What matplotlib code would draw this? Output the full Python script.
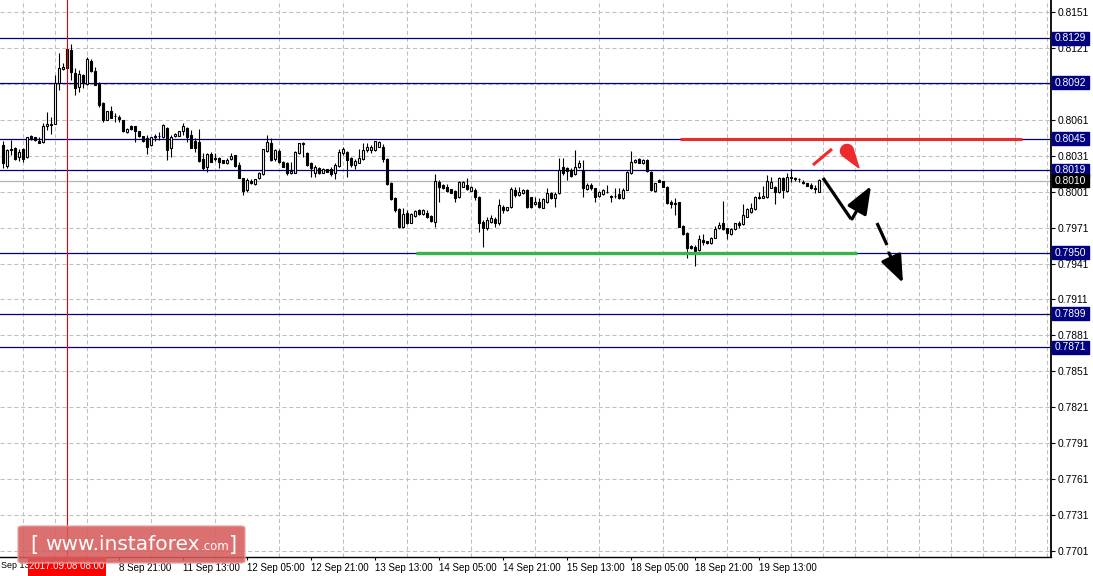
import matplotlib
matplotlib.use('Agg')
import matplotlib.pyplot as plt
from matplotlib.patches import Rectangle, FancyBboxPatch, Polygon
from matplotlib import transforms
import numpy as np

W, H = 1093, 576

# hourly candles, 7 Sep 16:00 .. 20 Sep 04:00
bar_open = [
    0.80400, 0.80227, 0.80363, 0.80377, 0.80302, 0.80363, 0.80297, 0.80475, 0.80464, 0.80433,
    0.80422, 0.80561, 0.80572, 0.80578, 0.80914, 0.81031, 0.81201, 0.81193, 0.80998, 0.80881,
    0.80984, 0.80906, 0.81104, 0.81017, 0.80920, 0.80753, 0.80608, 0.80683, 0.80644, 0.80636,
    0.80608, 0.80511, 0.80558, 0.80558, 0.80517, 0.80475, 0.80455, 0.80400, 0.80469, 0.80476,
    0.80464, 0.80544, 0.80372, 0.80475, 0.80478, 0.80517, 0.80544, 0.80483, 0.80433, 0.80427,
    0.80280, 0.80213, 0.80324, 0.80291, 0.80288, 0.80274, 0.80252, 0.80283, 0.80316, 0.80233,
    0.80121, 0.80024, 0.80099, 0.80071, 0.80121, 0.80155, 0.80352, 0.80414, 0.80283, 0.80350,
    0.80261, 0.80252, 0.80163, 0.80169, 0.80330, 0.80405, 0.80330, 0.80247, 0.80163, 0.80205,
    0.80169, 0.80197, 0.80197, 0.80163, 0.80224, 0.80330, 0.80344, 0.80288, 0.80233, 0.80252,
    0.80280, 0.80358, 0.80358, 0.80358, 0.80386, 0.80386, 0.80280, 0.80080, 0.79954, 0.79863,
    0.79718, 0.79829, 0.79751, 0.79807, 0.79857, 0.79824, 0.79835, 0.79807, 0.79760, 0.80088,
    0.80066, 0.80052, 0.80030, 0.80019, 0.79963, 0.80052, 0.80066, 0.80019, 0.80024, 0.79968,
    0.79760, 0.79704, 0.79760, 0.79779, 0.79751, 0.79885, 0.79857, 0.79879, 0.80024, 0.79982,
    0.79997, 0.80024, 0.79968, 0.79907, 0.79927, 0.79875, 0.79920, 0.80001, 0.79954, 0.79996,
    0.80218, 0.80204, 0.80190, 0.80154, 0.80218, 0.80190, 0.80029, 0.80065, 0.80037, 0.79976,
    0.79987, 0.80009, 0.79976, 0.79973, 0.79987, 0.79954, 0.80023, 0.80162, 0.80254, 0.80282,
    0.80246, 0.80274, 0.80176, 0.80015, 0.80107, 0.80098, 0.80051, 0.79920, 0.79912, 0.79920,
    0.79726, 0.79662, 0.79559, 0.79550, 0.79522, 0.79606, 0.79598, 0.79578, 0.79625, 0.79703,
    0.79745, 0.79703, 0.79653, 0.79698, 0.79745, 0.79737, 0.79801, 0.79842, 0.79865, 0.79968,
    0.79959, 0.79968, 0.80043, 0.80051, 0.80009, 0.80121, 0.80015, 0.80135, 0.80126, 0.80115,
    0.80088, 0.80079, 0.80065, 0.80038, 0.80009,
]
bar_high = [
    0.80433, 0.80363, 0.80441, 0.80380, 0.80363, 0.80372, 0.80469, 0.80483, 0.80469, 0.80469,
    0.80580, 0.80672, 0.80636, 0.80984, 0.81165, 0.81081, 0.81204, 0.81240, 0.81040, 0.81026,
    0.80990, 0.81137, 0.81118, 0.81054, 0.80923, 0.80761, 0.80686, 0.80728, 0.80664, 0.80647,
    0.80610, 0.80539, 0.80567, 0.80561, 0.80519, 0.80478, 0.80483, 0.80469, 0.80491, 0.80511,
    0.80572, 0.80546, 0.80483, 0.80496, 0.80520, 0.80583, 0.80546, 0.80525, 0.80455, 0.80530,
    0.80330, 0.80330, 0.80344, 0.80330, 0.80297, 0.80277, 0.80288, 0.80330, 0.80320, 0.80261,
    0.80127, 0.80121, 0.80116, 0.80116, 0.80177, 0.80370, 0.80483, 0.80455, 0.80365, 0.80370,
    0.80269, 0.80261, 0.80261, 0.80350, 0.80419, 0.80425, 0.80340, 0.80261, 0.80233, 0.80219,
    0.80205, 0.80202, 0.80219, 0.80247, 0.80364, 0.80380, 0.80352, 0.80302, 0.80280, 0.80364,
    0.80414, 0.80419, 0.80400, 0.80436, 0.80430, 0.80408, 0.80288, 0.80094, 0.79968, 0.79871,
    0.79871, 0.79857, 0.79829, 0.79857, 0.79863, 0.79863, 0.79857, 0.79812, 0.80158, 0.80108,
    0.80074, 0.80071, 0.80035, 0.80024, 0.80099, 0.80100, 0.80127, 0.80058, 0.80038, 0.79974,
    0.79774, 0.79801, 0.79815, 0.79796, 0.79946, 0.79899, 0.79885, 0.80052, 0.80052, 0.80046,
    0.80030, 0.80030, 0.79968, 0.79968, 0.79954, 0.79960, 0.80037, 0.80009, 0.80009, 0.80288,
    0.80288, 0.80218, 0.80204, 0.80357, 0.80274, 0.80274, 0.80079, 0.80079, 0.80039, 0.80015,
    0.80029, 0.80065, 0.79982, 0.80037, 0.80043, 0.80037, 0.80180, 0.80349, 0.80280, 0.80288,
    0.80280, 0.80282, 0.80182, 0.80085, 0.80112, 0.80102, 0.80055, 0.79940, 0.79954, 0.79923,
    0.79730, 0.79670, 0.79564, 0.79564, 0.79648, 0.79653, 0.79602, 0.79630, 0.79726, 0.79759,
    0.79931, 0.79709, 0.79703, 0.79750, 0.79764, 0.79904, 0.79870, 0.79912, 0.79973, 0.80009,
    0.80059, 0.80149, 0.80135, 0.80054, 0.80132, 0.80135, 0.80162, 0.80199, 0.80135, 0.80126,
    0.80107, 0.80083, 0.80079, 0.80065, 0.80115,
]
bar_low = [
    0.80206, 0.80206, 0.80316, 0.80275, 0.80266, 0.80261, 0.80294, 0.80439, 0.80433, 0.80414,
    0.80420, 0.80525, 0.80489, 0.80572, 0.80859, 0.81026, 0.81035, 0.80942, 0.80817, 0.80845,
    0.80873, 0.80904, 0.81006, 0.80898, 0.80720, 0.80594, 0.80605, 0.80622, 0.80589, 0.80589,
    0.80511, 0.80503, 0.80525, 0.80427, 0.80464, 0.80427, 0.80322, 0.80395, 0.80433, 0.80441,
    0.80455, 0.80274, 0.80302, 0.80470, 0.80475, 0.80483, 0.80422, 0.80372, 0.80344, 0.80261,
    0.80191, 0.80177, 0.80255, 0.80266, 0.80206, 0.80249, 0.80241, 0.80274, 0.80220, 0.80121,
    0.79982, 0.80010, 0.80071, 0.80068, 0.80116, 0.80152, 0.80344, 0.80269, 0.80270, 0.80250,
    0.80213, 0.80149, 0.80155, 0.80166, 0.80325, 0.80300, 0.80228, 0.80135, 0.80135, 0.80155,
    0.80163, 0.80170, 0.80144, 0.80113, 0.80213, 0.80316, 0.80135, 0.80219, 0.80197, 0.80247,
    0.80275, 0.80344, 0.80330, 0.80352, 0.80383, 0.80261, 0.80066, 0.79941, 0.79843, 0.79704,
    0.79704, 0.79740, 0.79746, 0.79796, 0.79818, 0.79815, 0.79788, 0.79760, 0.79718, 0.79927,
    0.80030, 0.80010, 0.79997, 0.79927, 0.79954, 0.80046, 0.80024, 0.80013, 0.79941, 0.79676,
    0.79551, 0.79690, 0.79751, 0.79718, 0.79732, 0.79829, 0.79852, 0.79871, 0.79968, 0.79974,
    0.79992, 0.79871, 0.79874, 0.79899, 0.79871, 0.79870, 0.79912, 0.79948, 0.79884, 0.79987,
    0.80149, 0.80107, 0.80135, 0.80149, 0.80210, 0.79968, 0.80023, 0.80023, 0.79926, 0.79962,
    0.79982, 0.79996, 0.79926, 0.79954, 0.79952, 0.79948, 0.80020, 0.80154, 0.80250, 0.80246,
    0.80240, 0.80176, 0.80015, 0.80010, 0.80088, 0.80046, 0.79908, 0.79870, 0.79815, 0.79713,
    0.79650, 0.79453, 0.79531, 0.79392, 0.79514, 0.79564, 0.79574, 0.79574, 0.79620, 0.79698,
    0.79689, 0.79614, 0.79650, 0.79693, 0.79709, 0.79731, 0.79796, 0.79829, 0.79860, 0.79948,
    0.79954, 0.79954, 0.80037, 0.79904, 0.79996, 0.79954, 0.80009, 0.80093, 0.80098, 0.80093,
    0.80071, 0.80055, 0.80029, 0.79996, 0.80007,
]
bar_close = [
    0.80247, 0.80358, 0.80360, 0.80283, 0.80344, 0.80280, 0.80464, 0.80450, 0.80439, 0.80419,
    0.80555, 0.80572, 0.80564, 0.80914, 0.81040, 0.81051, 0.81040, 0.81012, 0.80873, 0.80992,
    0.80914, 0.81118, 0.81017, 0.80901, 0.80734, 0.80608, 0.80683, 0.80628, 0.80640, 0.80614,
    0.80519, 0.80530, 0.80533, 0.80517, 0.80475, 0.80433, 0.80386, 0.80464, 0.80471, 0.80478,
    0.80564, 0.80358, 0.80469, 0.80491, 0.80517, 0.80561, 0.80469, 0.80377, 0.80372, 0.80266,
    0.80206, 0.80324, 0.80261, 0.80280, 0.80255, 0.80252, 0.80274, 0.80308, 0.80224, 0.80127,
    0.80016, 0.80107, 0.80080, 0.80113, 0.80169, 0.80366, 0.80427, 0.80275, 0.80358, 0.80260,
    0.80219, 0.80169, 0.80185, 0.80344, 0.80414, 0.80415, 0.80233, 0.80205, 0.80213, 0.80169,
    0.80197, 0.80177, 0.80155, 0.80233, 0.80344, 0.80364, 0.80275, 0.80233, 0.80269, 0.80288,
    0.80358, 0.80386, 0.80380, 0.80433, 0.80428, 0.80280, 0.80074, 0.79946, 0.79857, 0.79712,
    0.79824, 0.79751, 0.79824, 0.79849, 0.79824, 0.79857, 0.79801, 0.79768, 0.80102, 0.80046,
    0.80038, 0.80019, 0.80002, 0.79954, 0.80094, 0.80094, 0.80030, 0.80052, 0.79968, 0.79751,
    0.79704, 0.79774, 0.79788, 0.79746, 0.79899, 0.79857, 0.79879, 0.80030, 0.79982, 0.80010,
    0.80024, 0.79879, 0.79879, 0.79927, 0.79879, 0.79950, 0.79996, 0.79959, 0.79987, 0.80190,
    0.80162, 0.80182, 0.80143, 0.80218, 0.80246, 0.80043, 0.80065, 0.80037, 0.79968, 0.80009,
    0.80023, 0.80011, 0.79965, 0.79971, 0.79954, 0.80023, 0.80176, 0.80260, 0.80274, 0.80252,
    0.80274, 0.80182, 0.80023, 0.80079, 0.80093, 0.80051, 0.79912, 0.79904, 0.79904, 0.79717,
    0.79653, 0.79542, 0.79542, 0.79514, 0.79611, 0.79586, 0.79578, 0.79625, 0.79698, 0.79731,
    0.79698, 0.79662, 0.79698, 0.79745, 0.79731, 0.79815, 0.79865, 0.79876, 0.79968, 0.79954,
    0.79976, 0.80098, 0.80093, 0.80004, 0.80126, 0.80023, 0.80135, 0.80121, 0.80112, 0.80114,
    0.80086, 0.80059, 0.80043, 0.80036, 0.80107,
]

tick_bars = [29, 45, 61, 77, 93, 109, 125, 141, 157, 173, 189]
tick_labels = ['8 Sep 21:00', '11 Sep 13:00', '12 Sep 05:00', '12 Sep 21:00', '13 Sep 13:00',
               '14 Sep 05:00', '14 Sep 21:00', '15 Sep 13:00', '18 Sep 05:00', '18 Sep 21:00',
               '19 Sep 13:00']
first_label = 'Sep 13'  # what is left visible of the first date at the left edge
cursor_bar = 16
cursor_label = '2017.09.08 08:00'

price_ticks = [0.8151, 0.8121, 0.8091, 0.8061, 0.8031, 0.8001, 0.7971, 0.7941, 0.7911,
               0.7881, 0.7851, 0.7821, 0.7791, 0.7761, 0.7731, 0.7701]
hidden_ticks = [0.8091]  # covered by the 0.8092 level box
levels = [0.8129, 0.8092, 0.8045, 0.8019, 0.7950, 0.7899, 0.7871]
bid_price = 0.8010

resistance = 0.8045
resistance_span = [169.25, 254.75]
support = 0.7950
support_span = [103.25, 213.5]

# forecast drawing (bar index, price)
red_stroke = [(202.5, 0.80233), (207.25, 0.80366)]
red_drop = [(211.0, 0.80350), (214.0, 0.80208)]
down_leg = [(205.0, 0.80124), (212.0, 0.79782)]
up_leg = [(212.25, 0.79782), (217.0, 0.80057)]
dash_leg = [(218.5, 0.79748), (221.0, 0.79565)]
final_leg = [(221.5, 0.79498), (225.0, 0.79248)]

NAVY = '#000080'
GRID = '#c0c0c0'
RED = '#ee2a2c'
GREEN = '#38b44a'
FONT = 'Liberation Sans'
FS = 7.4
FS_X = 7.0

fig = plt.figure(figsize=(W / 100, H / 100), dpi=100)
fig.patch.set_facecolor('white')
ax = fig.add_axes([0, 19 / H, 1051 / W, 557 / H])
ax.set_facecolor('white')
ax.set_xlim(-0.75, 262)
ax.set_ylim(0.76960, 0.81610)

for side in ['top', 'left']:
    ax.spines[side].set_visible(False)
ax.spines['right'].set_linewidth(1.3)
ax.spines['bottom'].set_linewidth(1.0)

# grid
ax.set_xticks(np.arange(5, 262, 8), minor=True)
ax.set_xticks(tick_bars)
ax.set_xticklabels(tick_labels, ha='left', fontsize=FS_X, family=FONT)
ax.set_yticks(price_ticks)
ax.set_yticklabels(['' if p in hidden_ticks else '%.4f' % p for p in price_ticks],
                   fontsize=FS, family=FONT)
ax.yaxis.tick_right()
ax.tick_params(axis='x', which='major', length=2.5, width=0.8, pad=2)
ax.tick_params(axis='x', which='minor', length=0)
ax.tick_params(axis='y', length=3, width=0.8, pad=1.5)
ax.grid(True, axis='x', which='minor', color=GRID, linestyle=(0, (4, 2.6)), linewidth=0.75)
ax.grid(True, axis='y', which='major', color=GRID, linestyle=(0, (4, 2.6)), linewidth=0.75)
ax.set_axisbelow(True)

# horizontal levels
for lv in levels:
    ax.axhline(lv, color=NAVY, linewidth=0.9, zorder=1)
ax.axhline(bid_price, color='#b4b4b4', linewidth=0.9, zorder=1)

# candles
xs = np.arange(len(bar_close))
o = np.array(bar_open)
c = np.array(bar_close)
hi = np.array(bar_high)
lo = np.array(bar_low)
ax.vlines(xs, lo, hi, color='black', linewidth=0.8, zorder=3)
body_low = np.minimum(o, c)
body_h = np.maximum(np.abs(c - o), 0.000012)
up = c >= o
ax.bar(xs[up], body_h[up], bottom=body_low[up], width=0.55, color='white',
       edgecolor='black', linewidth=0.8, zorder=4)
ax.bar(xs[~up], body_h[~up], bottom=body_low[~up], width=0.55, color='black',
       edgecolor='black', linewidth=0.8, zorder=4)

# support / resistance
ax.hlines(resistance, resistance_span[0], resistance_span[1], color=RED, linewidth=2.2, zorder=5)
ax.hlines(support, support_span[0], support_span[1], color=GREEN, linewidth=2.4, zorder=5)

# forecast
ax.plot([p[0] for p in red_stroke], [p[1] for p in red_stroke], color=RED, linewidth=2.2,
        solid_capstyle='butt', zorder=6)
ax.plot([p[0] for p in down_leg], [p[1] for p in down_leg], color='black', linewidth=2.3,
        solid_capstyle='butt', zorder=6)
ax.plot([p[0] for p in dash_leg], [p[1] for p in dash_leg], color='black', linewidth=2.3,
        solid_capstyle='butt', zorder=6)
for leg in [up_leg, final_leg]:
    ax.annotate('', xy=leg[1], xytext=leg[0],
                arrowprops=dict(arrowstyle='-|>,head_length=1.4,head_width=0.55',
                                color='black', linewidth=2.3, mutation_scale=12,
                                shrinkA=0, shrinkB=0), zorder=6)

# red drop marker, built in screen pixels
cx, cy = ax.transData.transform(red_drop[0])
tx, ty = ax.transData.transform(red_drop[1])
r = 6.5
ang = np.arctan2(ty - cy, tx - cx)
theta = np.linspace(ang + 0.45 * np.pi, ang + 1.55 * np.pi, 40)
pts = [(cx + r * np.cos(t), cy + r * np.sin(t)) for t in theta] + [(tx, ty)]
fig.patches.append(Polygon(pts, closed=True, facecolor=RED, edgecolor=RED,
                           transform=None, zorder=6))

# cursor line
ax.axvline(cursor_bar, color='#e00000', linewidth=0.8, zorder=7)

# price boxes on the right scale
blend = transforms.blended_transform_factory(fig.transFigure, ax.transData)
box_h = 13 / (557 / (0.81610 - 0.76960))
for lv in levels + [bid_price]:
    fc = 'black' if lv == bid_price else NAVY
    ax.add_patch(Rectangle((1052 / W, lv - box_h / 2), 37 / W, box_h, transform=blend,
                           facecolor=fc, edgecolor=fc, clip_on=False, zorder=8))
    ax.text(1055 / W, lv, '%.4f' % lv, transform=blend, color='white', fontsize=FS,
            family=FONT, va='center', ha='left', clip_on=False, zorder=9)

# bottom labels
fig.text(1 / W, 1 - 566 / H, first_label, fontsize=6.4, family=FONT, ha='left', va='center')
fig.patches.append(Rectangle((28 / W, 1 - 576 / H), 78 / W, 19 / H, transform=fig.transFigure,
                             facecolor='#ff0000', edgecolor='none', zorder=10))
fig.text(67 / W, 1 - 566 / H, cursor_label, color='white', fontsize=FS_X, family=FONT,
         ha='center', va='center', zorder=11)

# watermark
fig.patches.append(FancyBboxPatch((18 / W, 1 - 563 / H), 227 / W, 37 / H,
                                  boxstyle='round,pad=0,rounding_size=0.004',
                                  transform=fig.transFigure, facecolor='#d65c5c',
                                  edgecolor='#e9a0a0', linewidth=1.0, alpha=0.88, zorder=12))
fig.text(30 / W, 1 - 545 / H, '[', color='white', fontsize=15, ha='left', va='center', zorder=13)
fig.text(45 / W, 1 - 545 / H, 'www.instaforex', color='white', fontsize=14.5,
         ha='left', va='center', zorder=13)
fig.text(201 / W, 1 - 546 / H, '.com', color='white', fontsize=8.5,
         ha='left', va='center', zorder=13)
fig.text(229 / W, 1 - 545 / H, ']', color='white', fontsize=15, ha='left', va='center', zorder=13)

fig.savefig('out.png', dpi=100, facecolor='white')
